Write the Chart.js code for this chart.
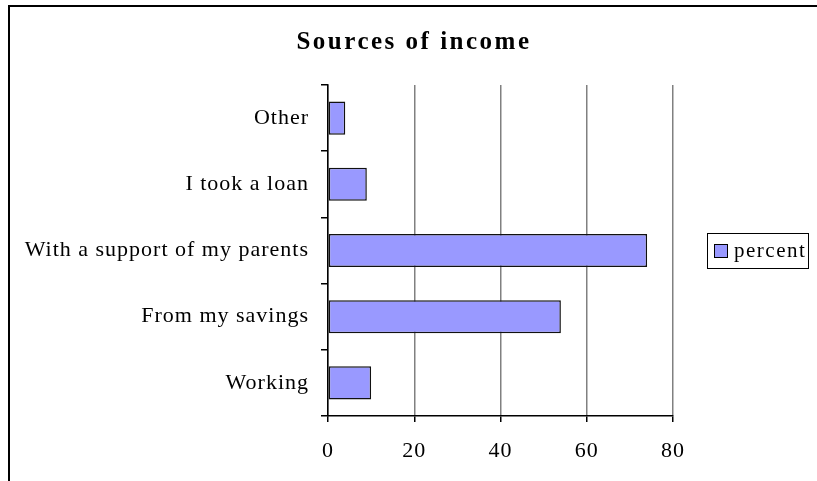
<!DOCTYPE html>
<html lang="en">
<head>
    <meta charset="UTF-8">
    <title>Sources of income</title>
    <script src="https://cdn.jsdelivr.net/npm/chart.js"></script>
    <style>
        html, body { margin: 0; padding: 0; background: #fff; }
        .wrap { position: relative; width: 817px; height: 481px; overflow: hidden; }
        .frame {
            position: absolute; left: 8px; top: 5px; width: 900px; height: 600px;
            border-left: 2px solid #000; border-top: 2px solid #000; pointer-events: none;
        }
    </style>
</head>
<body>
    <div class="wrap">
        <canvas id="graphique" width="817" height="481"></canvas>
        <div class="frame"></div>
    </div>

    <script>
        // data (top to bottom)
        const title = 'Sources of income';
        const categories = ['Other', 'I took a loan', 'With a support of my parents', 'From my savings', 'Working'];
        const percent = [4, 9, 74, 54, 10];
        const seriesName = 'percent';
        const xTicks = [0, 20, 40, 60, 80];

        const serif = '"Liberation Serif", "Times New Roman", serif';

        // title + boxed legend, drawn like the old office style
        const decor = {
            id: 'decor',
            beforeDraw(chart) {
                // canvas resize wipes ctx state, so set the spacing here
                chart.ctx.letterSpacing = '1px';
            },
            afterDraw(chart) {
                const c = chart.ctx;
                const area = chart.chartArea;
                const ds = chart.data.datasets[0];
                c.save();
                // title
                c.fillStyle = '#000';
                c.letterSpacing = '2.5px';
                c.font = 'bold 25px ' + serif;
                c.textAlign = 'center';
                c.textBaseline = 'middle';
                c.fillText(title, 414, 43);
                // legend
                c.letterSpacing = '1.5px';
                const x = area.right + 34, y = 233, w = 101, h = 35;
                c.strokeStyle = '#000';
                c.lineWidth = 1;
                c.strokeRect(x + 0.5, y + 0.5, w, h);
                c.fillStyle = ds.backgroundColor;
                c.fillRect(x + 7.5, y + 11.5, 13, 13);
                c.strokeRect(x + 7.5, y + 11.5, 13, 13);
                c.fillStyle = '#000';
                c.font = '21px ' + serif;
                c.textAlign = 'left';
                c.fillText(ds.label, x + 27, y + h / 2 + 1);
                c.restore();
            }
        };

        const ctx = document.getElementById('graphique').getContext('2d');
        const myChart = new Chart(ctx, {
            type: 'bar',
            data: {
                labels: categories,
                datasets: [{
                    label: seriesName,
                    data: percent,
                    backgroundColor: '#9999FF',
                    borderColor: '#111',
                    borderWidth: 1.5,
                    borderSkipped: false,
                    barPercentage: 0.5,
                    categoryPercentage: 1
                }]
            },
            options: {
                indexAxis: 'y',
                responsive: false,
                animation: false,
                layout: { padding: { left: 0, right: 144, top: 85, bottom: 0 } },
                plugins: {
                    legend: { display: false },
                    tooltip: { enabled: false },
                    title: { display: false }
                },
                scales: {
                    x: {
                        min: 0,
                        max: 80,
                        afterBuildTicks: s => { s.ticks = xTicks.map(v => ({ value: v })); },
                        afterFit: s => { s.height = 65; },
                        grid: { color: '#808080', lineWidth: 1.5, tickColor: '#000', tickLength: 6 },
                        border: { color: '#000', width: 1.5 },
                        ticks: { color: '#000', padding: 16, font: { family: serif, size: 22 } }
                    },
                    y: {
                        afterFit: s => { s.width = 328; },
                        grid: { drawOnChartArea: false, offset: true, tickColor: '#000', tickLength: 7, lineWidth: 1.5 },
                        border: { color: '#000', width: 1.5 },
                        ticks: { color: '#000', padding: 12, font: { family: serif, size: 22 } }
                    }
                }
            },
            plugins: [decor]
        });
    </script>
</body>
</html>
